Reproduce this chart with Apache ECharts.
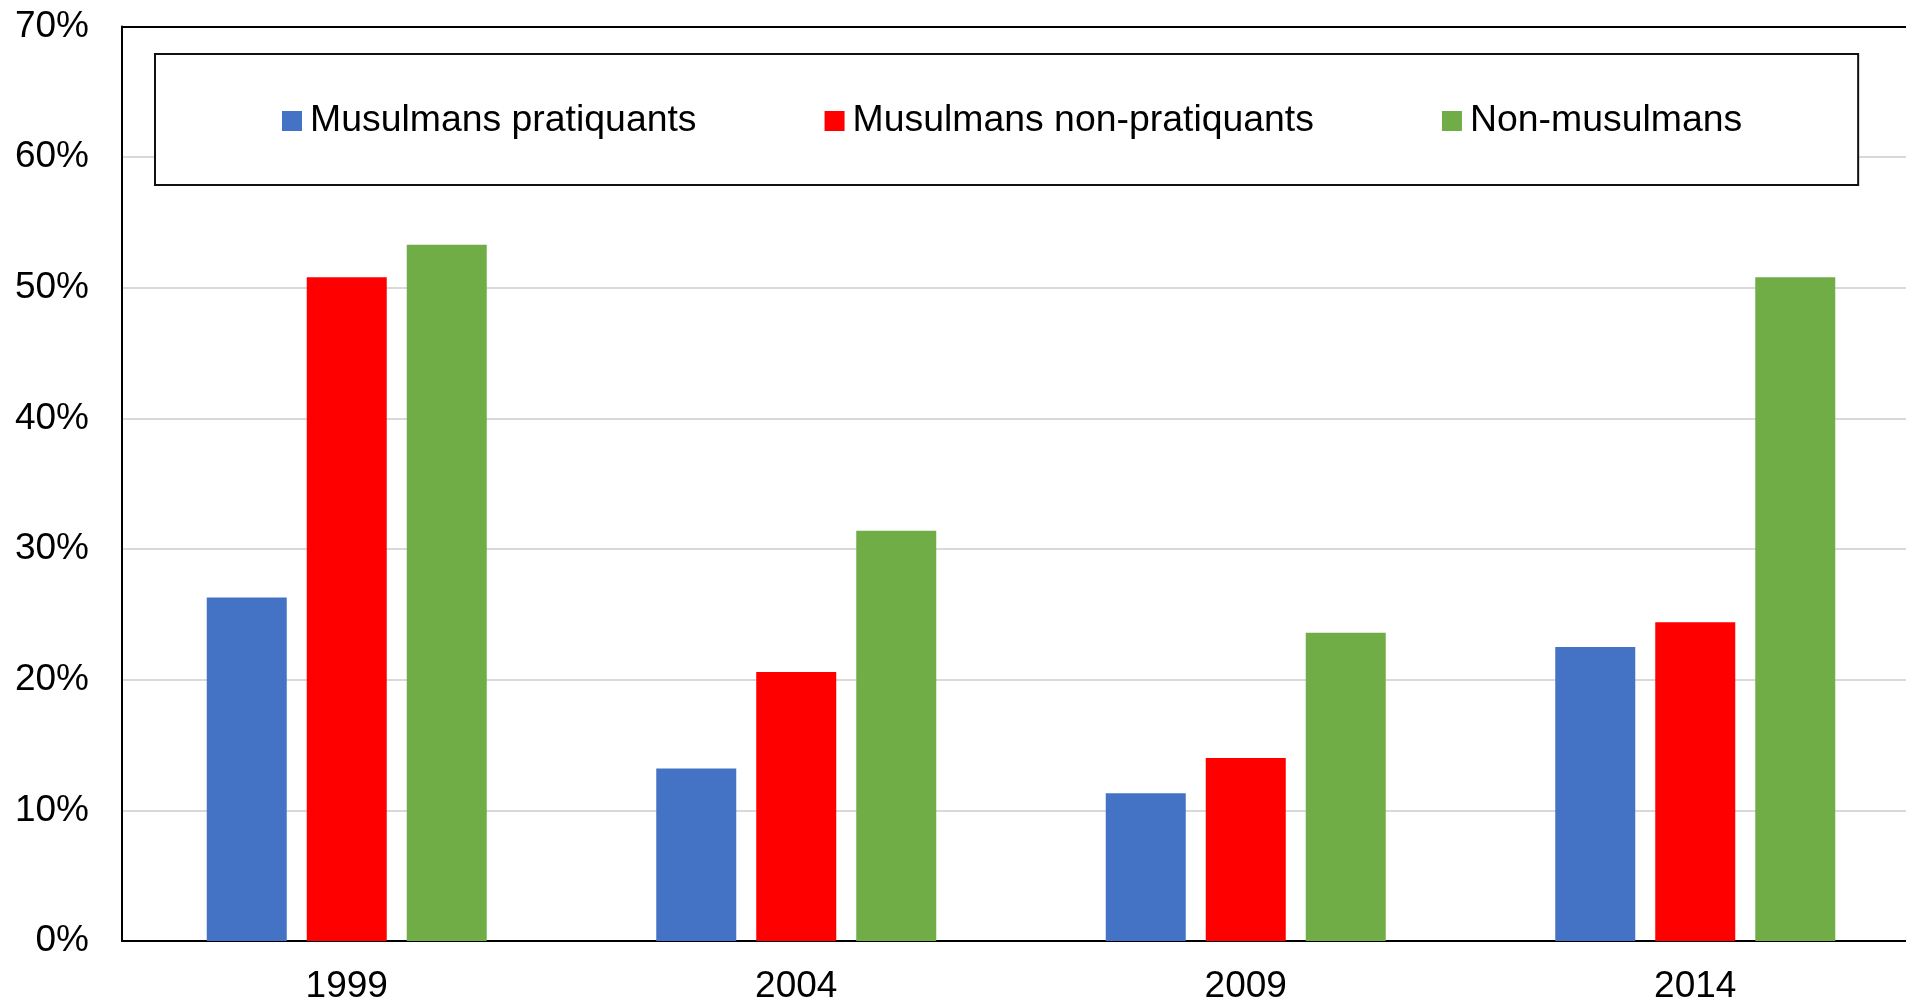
<!DOCTYPE html>
<html>
<head>
<meta charset="utf-8">
<title>Musulmans</title>
<script src="https://cdn.jsdelivr.net/npm/echarts@6/dist/echarts.min.js"></script>
<style>
  html, body { margin: 0; padding: 0; background: #fff; }
  #chart { width: 1906px; height: 1000px; }
</style>
</head>
<body>
<div id="chart"></div>
<script>
const years = ['1999', '2004', '2009', '2014']
const seriesNames = ['Musulmans pratiquants', 'Musulmans non-pratiquants', 'Non-musulmans']
const pratiquants = [26.3, 13.2, 11.3, 22.5]
const nonPratiquants = [50.8, 20.6, 14.0, 24.4]
const nonMusulmans = [53.3, 31.4, 23.6, 50.8]
const yTicks = [0, 10, 20, 30, 40, 50, 60, 70]

const colors = ['#4472C4', '#FF0000', '#70AD47']
const font = '"Liberation Sans", Arial, sans-serif'

let myChart = echarts.init(document.getElementById('chart'))

// top gridline (70%) is the black frame of the plot
let splitColors = yTicks.map((v, i) => i === yTicks.length - 1 ? '#000' : '#d9d9d9')

myChart.setOption({
  backgroundColor: '#fff',
  animation: false,
  color: colors,
  textStyle: { fontFamily: font },
  grid: {
    left: 122,
    right: -14,
    top: 26.5,
    bottom: 59,
    containLabel: false,
    outerBoundsMode: 'none'
  },
  legend: {
    data: seriesNames,
    left: 155,
    top: 54,
    orient: 'horizontal',
    icon: 'rect',
    itemWidth: 20,
    itemHeight: 20,
    itemGap: 128,
    padding: [47, 116, 44, 127],
    borderColor: '#111',
    borderWidth: 2,
    backgroundColor: '#fff',
    textStyle: {
      fontSize: 37.4,
      lineHeight: 40,
      color: '#000',
      fontFamily: font,
      padding: [0, 0, 0, 3]
    }
  },
  xAxis: {
    type: 'category',
    data: years,
    axisTick: { show: false },
    axisLine: { lineStyle: { color: '#000', width: 2 } },
    axisLabel: {
      fontSize: 37,
      color: '#000',
      margin: 27,
      fontFamily: font
    },
    splitLine: { show: false }
  },
  yAxis: {
    type: 'value',
    min: 0,
    max: 70,
    interval: 10,
    axisTick: { show: false },
    axisLine: { show: true, lineStyle: { color: '#000', width: 2 } },
    axisLabel: {
      formatter: '{value}%',
      fontSize: 37,
      color: '#000',
      margin: 33,
      padding: [5, 0, 0, 0],
      fontFamily: font
    },
    splitLine: {
      show: true,
      lineStyle: { color: splitColors, width: 2 }
    }
  },
  series: [{
    name: seriesNames[0],
    type: 'bar',
    data: pratiquants,
    barWidth: 80,
    barGap: '25%'
  }, {
    name: seriesNames[1],
    type: 'bar',
    data: nonPratiquants,
    barWidth: 80,
    barGap: '25%'
  }, {
    name: seriesNames[2],
    type: 'bar',
    data: nonMusulmans,
    barWidth: 80,
    barGap: '25%'
  }]
})
</script>
</body>
</html>
